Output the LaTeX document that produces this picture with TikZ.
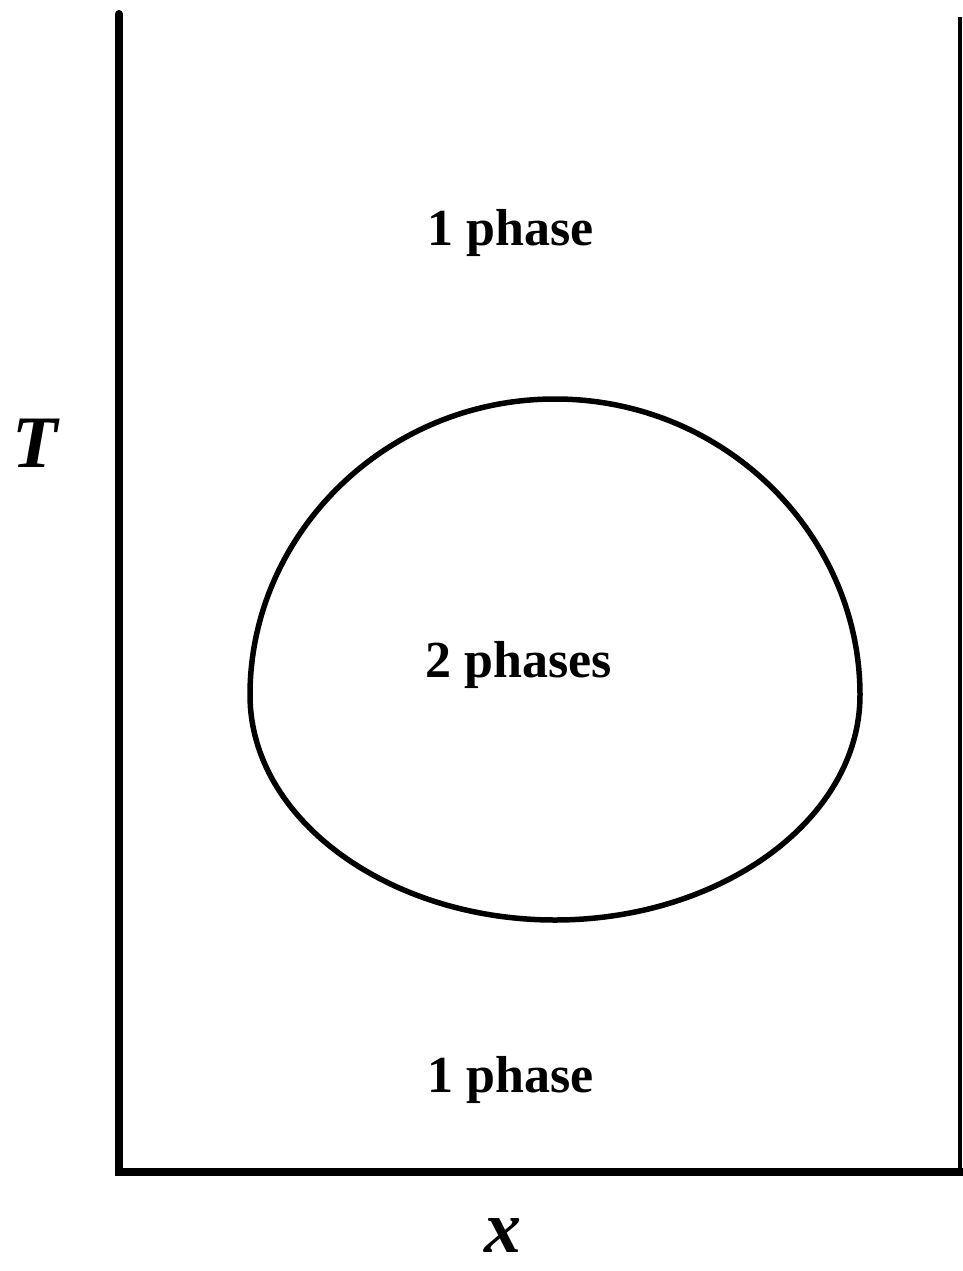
\documentclass[tikz,border=0pt]{standalone}
\usepackage{fontspec}
\setmainfont{Liberation Serif}
\begin{document}
\begin{tikzpicture}[x=1pt,y=-1pt,
  axis/.style={line width=8pt,line join=miter,line cap=round},
  rim/.style={line width=4pt},
  curve/.style={line width=5.5pt},
  lab/.style={inner sep=0pt,anchor=base,font=\bfseries\fontsize{52}{52}\selectfont},
  axlab/.style={inner sep=0pt,anchor=base,font=\bfseries\itshape\fontsize{74}{74}\selectfont}]
\useasboundingbox (0,0) rectangle (963,1271);
\coordinate (top) at (119,14);
\coordinate (origin) at (119,1172);
\coordinate (xend) at (963,1172);
\coordinate (rtop) at (960,17);
\coordinate (rbot) at (960,1172);
\draw[axis] (top) -- (origin) -- (xend);
\draw[rim] (rtop) -- (rbot);
\coordinate (eT) at (555,399);
\coordinate (eR) at (860,695);
\coordinate (eB) at (555,920);
\coordinate (eL) at (250,695);
\draw[curve] (eT) .. controls (725,399) and (860,535) .. (eR)
  .. controls (860,820) and (720,920) .. (eB)
  .. controls (390,920) and (250,820) .. (eL)
  .. controls (250,535) and (385,399) .. (eT) -- cycle;
\node[lab] (p1) at (511,245) {1 phase};
\node[lab] (p2) at (519,677) {2 phases};
\node[lab] (p3) at (511,1092) {1 phase};
\node[axlab] (T) at (35,467) {T};
\node[axlab] (x) at (503,1252) {x};
\end{tikzpicture}
\end{document}
